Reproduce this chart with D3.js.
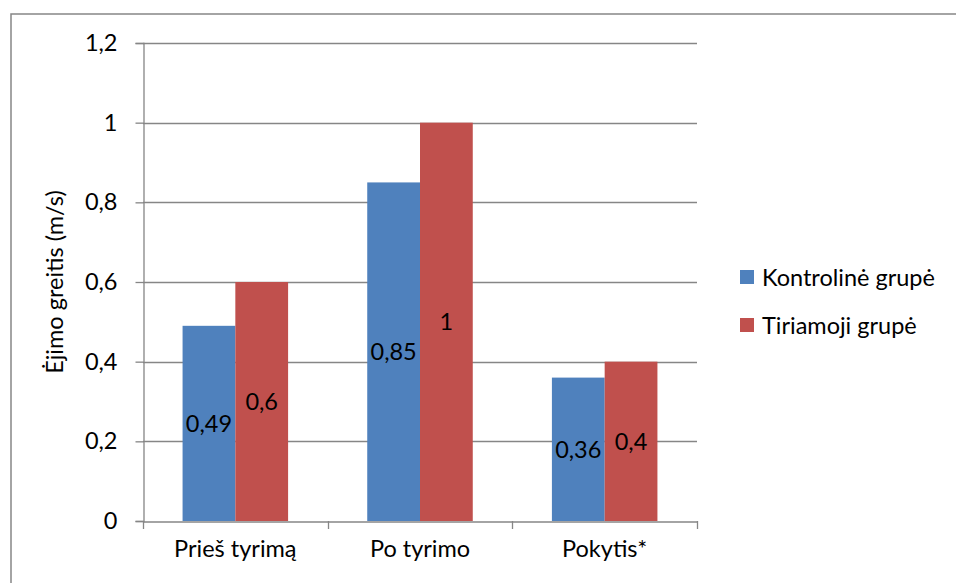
<!DOCTYPE html>
<html><head><meta charset="utf-8">
<script src="https://cdn.jsdelivr.net/npm/d3@7"></script>
<style>body{margin:0;background:#fff}svg{display:block}text{font-family:Lato,"Noto Sans",sans-serif;fill:#000}</style>
</head><body><svg id="c" width="956" height="583"></svg>
<script>
const categories = ["Prieš tyrimą", "Po tyrimo", "Pokytis*"];
const seriesNames = ["Kontrolinė grupė", "Tiriamoji grupė"];
const kontroline = [0.49, 0.85, 0.36];
const tiriamoji = [0.6, 1, 0.4];
const kontrolineLabels = ["0,49", "0,85", "0,36"];
const tiriamojiLabels = ["0,6", "1", "0,4"];
const yTicks = [0, 0.2, 0.4, 0.6, 0.8, 1, 1.2];
const yTickLabels = ["0", "0,2", "0,4", "0,6", "0,8", "1", "1,2"];
const colors = ["#4F81BD", "#C0504D"];
const yTitle = "Ėjimo greitis (m/s)";

const FS = 23.5;
const svg = d3.select("#c");
const grid = "#868686";
svg.append("rect").attr("x",11).attr("y",14).attr("width",1000).attr("height",700)
  .attr("fill","none").attr("stroke","#868686").attr("stroke-width",1.5);

const L=143, R=697, T=43, B=521;
const x = d3.scaleBand().domain(categories).range([L,R]).paddingInner(0).paddingOuter(0);
const y = d3.scaleLinear().domain([0,1.2]).range([B,T]);
const groupW = x.bandwidth()/1.75;
const x1 = d3.scaleBand().domain([0,1]).range([0,groupW]);

// gridlines
svg.append("g").selectAll("line").data(yTicks.slice(1)).join("line")
  .attr("x1",L).attr("x2",R).attr("y1",d=>Math.round(y(d))+0.5).attr("y2",d=>Math.round(y(d))+0.5)
  .attr("stroke",grid).attr("stroke-width",1.3);

// y axis
const ya = svg.append("g").attr("transform",`translate(${L+0.5},0)`)
  .call(d3.axisLeft(y).tickValues(yTicks).tickFormat((d,i)=>yTickLabels[i]).tickSize(8).tickPadding(18));
ya.select(".domain").attr("stroke",grid).attr("stroke-width",1.3);
ya.selectAll(".tick line").attr("stroke",grid).attr("stroke-width",1.3);
ya.selectAll(".tick text").attr("font-size",FS).attr("font-family","Lato, 'Noto Sans', sans-serif");

// bars
const series = [kontroline, tiriamoji];
const labels = [kontrolineLabels, tiriamojiLabels];
series.forEach((vals,s)=>{
  const g = svg.append("g");
  g.selectAll("rect").data(vals).join("rect")
    .attr("x",(d,i)=>x(categories[i]) + (x.bandwidth()-groupW)/2 + x1(s))
    .attr("width",x1.bandwidth())
    .attr("y",d=>y(d)).attr("height",d=>y(0)-y(d))
    .attr("fill",colors[s]);
  g.selectAll("text").data(vals).join("text")
    .attr("x",(d,i)=>x(categories[i]) + (x.bandwidth()-groupW)/2 + x1(s) + x1.bandwidth()/2)
    .attr("y",d=>(y(d)+y(0))/2)
    .attr("dy","0.35em").attr("text-anchor","middle").attr("font-size",FS)
    .text((d,i)=>labels[s][i]);
});

// x axis
const xa = svg.append("g").attr("transform",`translate(0,${B+0.5})`)
  .call(d3.axisBottom(x).tickSize(0).tickPadding(19));
xa.select(".domain").attr("stroke",grid).attr("stroke-width",1.3);
xa.selectAll(".tick text").attr("font-size",FS).attr("font-family","Lato, 'Noto Sans', sans-serif");
svg.append("g").selectAll("line").data(categories.concat([null])).join("line")
  .attr("x1",(d,i)=>Math.round(L + i*x.bandwidth())+0.5).attr("x2",(d,i)=>Math.round(L + i*x.bandwidth())+0.5)
  .attr("y1",B).attr("y2",B+8).attr("stroke",grid).attr("stroke-width",1.3);

// y title
svg.append("text").attr("transform","translate(63,282) rotate(-90)")
  .attr("text-anchor","middle").attr("font-size",FS).text(yTitle);

// legend
const lg = svg.append("g");
seriesNames.forEach((n,i)=>{
  lg.append("rect").attr("x",740).attr("y",270+i*48).attr("width",14).attr("height",14).attr("fill",colors[i]);
  lg.append("text").attr("x",762).attr("y",278+i*48).attr("dy","0.35em").attr("font-size",FS).text(n);
});
</script></body></html>
